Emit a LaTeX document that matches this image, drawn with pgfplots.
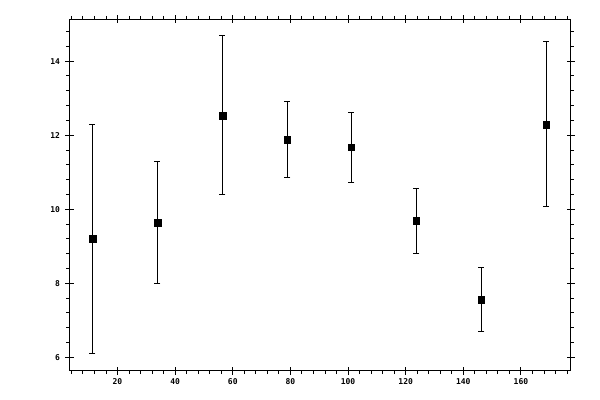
\documentclass[border=0pt]{standalone}
\usepackage{fontspec}
\setmainfont{DejaVu Sans Mono}
\usepackage{pgfplots}
\pgfplotsset{compat=1.18}
\usepackage{pgfplotstable}

\pgfplotstableread{
x      y      ep    em
11.33  9.21   3.08  3.11
33.87  9.64   1.65  1.64
56.41  12.53  2.17  2.13
78.95  11.88  1.03  1.02
101.15 11.67  0.94  0.95
123.69 9.69   0.86  0.89
146.23 7.56   0.86  0.87
168.77 12.29  2.24  2.22
}\datatable

\begin{document}
\begin{tikzpicture}[font=\fontsize{8bp}{9bp}\selectfont\bfseries]
  \pgfplotsset{
    common/.style={
      scale only axis,
      width=501bp, height=351.5bp,
      xmin=3.35, xmax=177.2,
      ymin=5.635, ymax=15.13,
      xtick={20,40,...,160},
      ytick={6,8,...,14},
      axis line style={line width=0.9bp},
      every tick/.style={black, line width=0.9bp},
      /pgf/number format/assume math mode=true,
    }
  }
  % minor ticks, pointing outwards
  \begin{axis}[common,
      name=ax,
      tick align=outside,
      major tick length=0pt,
      minor tick length=3.3bp,
      minor xtick={4,8,...,176},
      minor ytick={6,6.4,...,15.1},
      xticklabels={}, yticklabels={},
    ]
    \addplot[draw=none] coordinates {(10,10)};
  \end{axis}
  % major ticks crossing the frame, labels and data
  \begin{axis}[common,
      tick align=center,
      major tick length=8bp,
      xtick pos=both, ytick pos=both,
      xticklabel pos=lower, yticklabel pos=left,
      xticklabel style={yshift=-0.5bp},
      yticklabel style={xshift=-2bp},
    ]
    \addplot[
      black, only marks,
      mark=square*, mark size=3.3bp,
      error bars/.cd,
        y dir=both, y explicit,
        error bar style={line width=0.9bp},
        error mark options={rotate=90, mark size=3bp, line width=0.9bp},
    ] table[x=x, y=y, y error plus=ep, y error minus=em] {\datatable};
  \end{axis}
  \path ([xshift=-69.5bp,yshift=-29bp]ax.south west)
        rectangle ([xshift=29.5bp,yshift=19.3bp]ax.north east);
\end{tikzpicture}
\end{document}
